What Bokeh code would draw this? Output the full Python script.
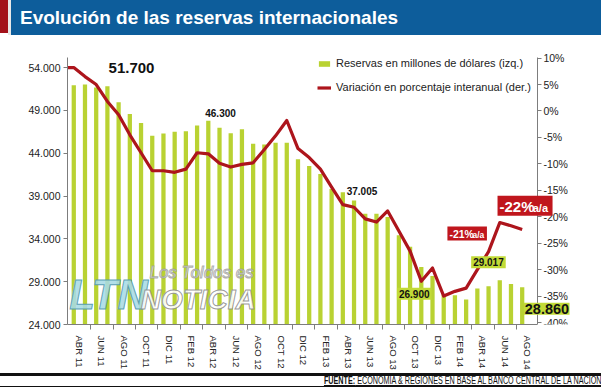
from bokeh.plotting import figure
from bokeh.models import Range1d, LinearAxis, FixedTicker, Label, Legend, LegendItem, Div
from bokeh.layouts import column
from bokeh.embed import file_html
from bokeh.resources import INLINE

# ---------------- data ----------------
TITULO = "Evolución de las reservas internacionales"
FUENTE_TIT = "FUENTE:"
FUENTE_TXT = "ECONOMIA &amp; REGIONES EN BASE AL BANCO CENTRAL DE LA NACION"

meses = ["ABR 11", "MAY 11", "JUN 11", "JUL 11", "AGO 11", "SEP 11", "OCT 11", "NOV 11", "DIC 11",
         "ENE 12", "FEB 12", "MAR 12", "ABR 12", "MAY 12", "JUN 12", "JUL 12", "AGO 12", "SEP 12",
         "OCT 12", "NOV 12", "DIC 12",
         "ENE 13", "FEB 13", "MAR 13", "ABR 13", "MAY 13", "JUN 13", "JUL 13", "AGO 13", "SEP 13",
         "OCT 13", "NOV 13", "DIC 13",
         "ENE 14", "FEB 14", "MAR 14", "ABR 14", "MAY 14", "JUN 14", "JUL 14", "AGO 14"]
mes_previo = "MAR 11"

# Reservas en millones de dólares (izq.)
reservas = [51950, 52030, 51680, 51830, 49950, 48570, 47530, 46030, 46290,
            46520, 46560, 47250, 47790, 46980, 46330, 46790, 45100, 45020,
            45210, 45210, 43290,
            42510, 41560, 39820, 39440, 38470, 36940, 36940, 36550, 34430,
            33090, 30700, 29660,
            27500, 27430, 26920, 28190, 28470, 29160, 28740, 28350]

# Variación en porcentaje interanual (der.), desde MAR 11
variacion = [8.2,
             8.2, 6.5, 5.0, 1.8, -0.7, -4.5, -7.9, -11.3, -11.3,
             -11.6, -11.0, -7.9, -8.1, -9.9, -10.6, -10.1, -9.8, -7.3,
             -4.7, -1.8, -7.1,
             -8.8, -11.0, -14.4, -17.7, -18.2, -20.4, -21.0, -18.9, -22.7,
             -26.5, -32.2, -29.7,
             -35.0, -34.1, -33.5, -30.0, -26.6, -21.1, -21.7, -22.4]

etiquetas_x = meses[::2]
ticks_izq = [24000, 29000, 34000, 39000, 44000, 49000, 54000]
etiquetas_izq = ["24.000", "29.000", "34.000", "39.000", "44.000", "49.000", "54.000"]
ticks_der = [-40, -35, -30, -25, -20, -15, -10, -5, 0, 5, 10]
etiquetas_der = ["-40%", "-35%", "-30%", "-25%", "-20%", "-15%", "-10%", "-5%", "0%", "5%", "10%"]

serie_barras = "Reservas en millones de dólares (izq.)"
serie_linea = "Variación en porcentaje interanual (der.)"

# ---------------- style ----------------
VERDE = "#b9d232"
VERDE_CAJA = "#c2da37"
ROJO = "#ad151c"
ROJO_CAJA = "#c0161d"
AZUL = "#0d5d9b"
FONT = "Liberation Sans"
GRIS = "#7d7d7d"

X0, X1 = -0.56, 41.36               # where the two value axes stand
Y_IZQ = (24000, 55190)              # extent of the left axis line
Y_DER = (-40.37, 10.13)             # extent of the right axis line

idx = list(range(len(meses)))
idx_linea = list(range(-1, len(meses)))

p = figure(width=601, height=337, output_backend="svg", toolbar_location=None,
           x_range=Range1d(X0, 44.22), y_range=Range1d(Y_IZQ[0], 56580),
           min_border_left=67, min_border_right=32, min_border_top=10, min_border_bottom=45)
p.extra_y_ranges = {"pct": Range1d(Y_DER[0], 12.38)}
p.grid.visible = False
p.outline_line_color = None
p.background_fill_color = "white"
p.border_fill_color = "white"

r_bar = p.vbar(x=idx, top=reservas, bottom=24000, width=0.38, fill_color=VERDE, line_color=None)
r_line = p.line(idx_linea, variacion, y_range_name="pct", line_color=ROJO, line_width=3.2,
                line_join="round")

def estilo(ax, size="11px"):
    ax.axis_line_color = GRIS
    ax.major_tick_line_color = GRIS
    ax.major_tick_in = 0
    ax.major_tick_out = 4
    ax.minor_tick_line_color = None
    ax.major_label_text_font = FONT
    ax.major_label_text_font_size = size
    ax.major_label_text_color = "#222222"
    ax.major_label_standoff = 3

# left axis
ya = p.yaxis[0]
ya.ticker = FixedTicker(ticks=ticks_izq)
ya.major_label_overrides = dict(zip(ticks_izq, etiquetas_izq))
ya.bounds = Y_IZQ
estilo(ya, "10.5px")

# right axis (stands at the end of the months, leaving room for the last callout)
yr = LinearAxis(y_range_name="pct", ticker=FixedTicker(ticks=ticks_der), fixed_location=X1)
yr.major_label_overrides = dict(zip(ticks_der, etiquetas_der))
yr.bounds = Y_DER
estilo(yr, "10.5px")
yr.major_label_standoff = 2
p.add_layout(yr, "right")

# bottom axis: labels centred on two-month groups, ticks between groups
pos_x = [i + 0.5 for i in range(0, len(meses), 2)]
lim_x = [i + 1.5 for i in range(0, len(meses) - 1, 2)]
xa = p.xaxis[0]
xa.ticker = FixedTicker(ticks=pos_x, minor_ticks=lim_x)
xa.major_label_overrides = dict(zip(pos_x, etiquetas_x))
xa.bounds = (X0, X1)
estilo(xa, "9.5px")
xa.major_tick_line_color = None
xa.minor_tick_line_color = GRIS
xa.minor_tick_in = 0
xa.minor_tick_out = 5
xa.major_label_orientation = "vertical"
xa.major_label_standoff = 6

legend = Legend(items=[LegendItem(label=serie_barras, renderers=[r_bar]),
                       LegendItem(label=serie_linea, renderers=[r_line])],
                location=(250, 229), padding=0, margin=0, spacing=8,
                label_height=16, glyph_height=7, glyph_width=14, label_standoff=5,
                border_line_color=None, background_fill_alpha=0,
                label_text_font=FONT, label_text_font_size="11px", label_text_color="#222222")
p.add_layout(legend)

# watermark
for txt, x, y, size, style, col, out, alpha in [
    ("LTN", 3.1, 27470, "42px", "bold italic", "#a8dbe6", "#4f97ad", 0.9),
    ("Los Toldos es", 11.4, 30120, "17px", "italic", "#ffffff", "#9a9a9a", 0.8),
    ("NOTICIA", 11.1, 26890, "28px", "bold italic", "#ffffff", "#8f8f8f", 0.9),
]:
    p.add_layout(Label(x=x, y=y, text=txt, text_align="center", text_baseline="middle",
                       text_font=FONT, text_font_style=style, text_font_size=size,
                       text_color=col, text_alpha=alpha, text_outline_color=out))

# callouts (plain)
for txt, x, y, size in [("51.700", 5.15, 53980, "15px"),
                        ("46.300", 13.09, 48690, "10px"),
                        ("37.005", 25.71, 39560, "10px")]:
    p.add_layout(Label(x=x, y=y, text=txt, text_align="center", text_baseline="middle",
                       text_font=FONT, text_font_style="bold", text_font_size=size,
                       text_color="#111111"))

# callouts (green boxes)
for txt, x, y, size, pad in [("26.900", 30.37, 27580, "10px", 2),
                             ("29.017", 36.99, 31255, "10px", 2),
                             ("28.860", 42.21, 25825, "14.5px", 1)]:
    p.add_layout(Label(x=x, y=y, text=txt, text_align="center", text_baseline="middle",
                       text_font=FONT, text_font_style="bold", text_font_size=size,
                       text_color="#111111", background_fill_color=VERDE_CAJA, padding=pad))

# callouts (red boxes)
p.add_layout(Label(x=33.33, y=-23.17, y_range_name="pct", text="-21%", text_align="left",
                   text_baseline="middle", text_font=FONT, text_font_style="bold",
                   text_font_size="10.5px", text_color="white", background_fill_color=ROJO_CAJA,
                   padding=dict(left=2, right=13, top=1, bottom=1)))
p.add_layout(Label(x=35.56, y=-23.4, y_range_name="pct", text="a/a", text_align="left",
                   text_baseline="middle", text_font=FONT, text_font_style="bold",
                   text_font_size="8.5px", text_color="white"))
p.add_layout(Label(x=37.80, y=-17.93, y_range_name="pct", text="-22%", text_align="left",
                   text_baseline="middle", text_font=FONT, text_font_style="bold",
                   text_font_size="15px", text_color="white", background_fill_color=ROJO_CAJA,
                   padding=dict(left=2, right=18, top=2, bottom=1)))
p.add_layout(Label(x=40.94, y=-18.3, y_range_name="pct", text="a/a", text_align="left",
                   text_baseline="middle", text_font=FONT, text_font_style="bold",
                   text_font_size="11px", text_color="white"))

banner = Div(text=(f'<div style="display:flex;width:601px;height:35px;">'
                   f'<div style="width:8px;height:33px;background:#a3121a;"></div>'
                   f'<div style="width:3px;height:35px;background:#e8e8e8;"></div>'
                   f'<div style="flex:1;height:35px;background:{AZUL};color:#ffffff;'
                   f'font-family:\'{FONT}\',Arial,sans-serif;font-weight:bold;font-size:19px;'
                   f'line-height:35px;padding-left:9px;white-space:nowrap;">{TITULO}</div></div>'),
             width=601, height=35, margin=(0, 0, 0, 0))

fuente = Div(text=(f'<div style="width:601px;height:14px;margin-top:1px;border-top:3px solid #111;'
                   f'border-bottom:1px solid #111;box-sizing:border-box;text-align:right;'
                   f'font-family:\'{FONT}\',sans-serif;font-size:10px;line-height:10px;'
                   f'color:#111;white-space:nowrap;overflow:hidden;">'
                   f'<span style="display:inline-block;transform:scaleX(0.72);transform-origin:right center;">'
                   f'<u><b>{FUENTE_TIT}</b> {FUENTE_TXT}</u></span></div>'),
             width=601, height=15, margin=(0, 0, 0, 0))

layout = column(banner, p, fuente, spacing=0)

open("out.html", "w").write(file_html(layout, INLINE))
